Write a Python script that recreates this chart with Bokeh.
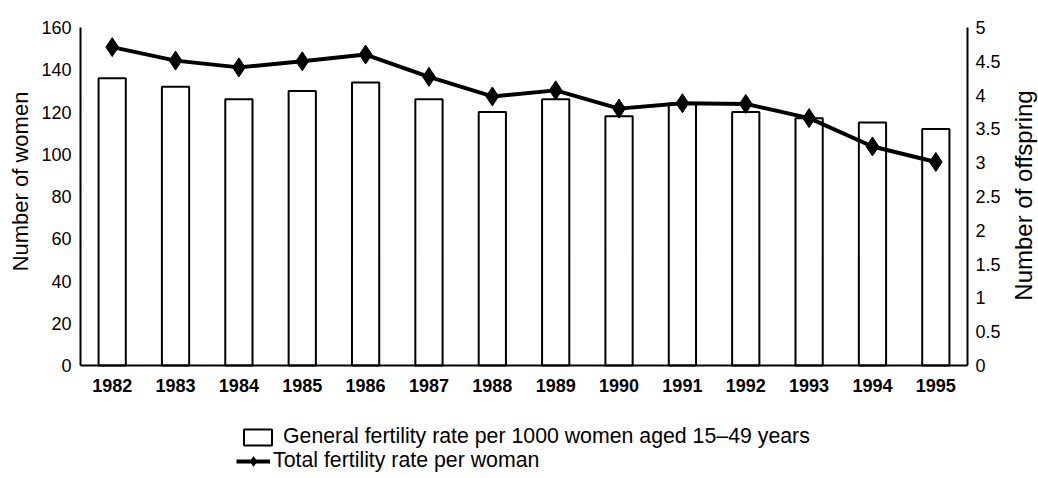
import math
from bokeh.plotting import figure
from bokeh.models import (Range1d, LinearAxis, Legend, LegendItem, Label,
                          FixedTicker, CustomJSTickFormatter, ColumnDataSource)
from bokeh.embed import file_html
from bokeh.resources import INLINE

years = ["1982", "1983", "1984", "1985", "1986", "1987", "1988",
         "1989", "1990", "1991", "1992", "1993", "1994", "1995"]
gfr = [136, 132, 126, 130, 134, 126, 120, 126, 118, 124, 120, 117, 115, 112]
tfr = [4.71, 4.51, 4.41, 4.50, 4.60, 4.27, 3.98, 4.07, 3.80, 3.88, 3.87, 3.66, 3.24, 3.01]
left_ticks = [0, 20, 40, 60, 80, 100, 120, 140, 160]
right_ticks = [0, 0.5, 1, 1.5, 2, 2.5, 3, 3.5, 4, 4.5, 5]
gfr_label = "General fertility rate per 1000 women aged 15\u201349 years"
tfr_label = "Total fertility rate per woman"
left_title = "Number of women"
right_title = "Number of offspring"

FONT = "Liberation Sans"

# ---- layout in pixels (the whole figure is the plotting frame) ----
W, H = 1038, 478
AX_LEFT, AX_RIGHT = 80, 967        # x pixel of the left and right axes
AX_TOP, AX_BOTTOM = 27, 365        # y pixel (from top) of value 160 / 0
left_max, right_max = 160, 5
n = len(years)
xpx = (AX_RIGHT - AX_LEFT) / n
ypx = (AX_BOTTOM - AX_TOP) / left_max
x_start, x_end = -AX_LEFT / xpx, n + (W - AX_RIGHT) / xpx
y_top, y_bot = left_max + AX_TOP / ypx, -(H - AX_BOTTOM) / ypx
scale = right_max / left_max

xpos = [i + 0.5 for i in range(n)]
src = ColumnDataSource(dict(x=xpos, year=years, gfr=gfr, tfr=tfr))

p = figure(x_range=Range1d(x_start, x_end), y_range=Range1d(y_bot, y_top),
           frame_width=W, frame_height=H,
           min_border_left=0, min_border_right=0, min_border_top=0, min_border_bottom=0,
           output_backend="svg", toolbar_location=None)
p.outline_line_color = None
p.xgrid.grid_line_color = None
p.ygrid.grid_line_color = None
p.background_fill_color = "white"
p.border_fill_color = "white"
p.extra_y_ranges = {"tfr": Range1d(y_bot * scale, y_top * scale)}

bars = p.vbar(x="x", top="gfr", bottom=0, width=0.43, source=src,
              fill_color="white", line_color="black", line_width=2)
line = p.line(x="x", y="tfr", source=src, y_range_name="tfr",
              line_color="black", line_width=4)
pts = p.scatter(x="x", y="tfr", source=src, y_range_name="tfr",
                marker="diamond", size=19, fill_color="black", line_color="black")


def style_axis(ax, size, bold=False):
    ax.axis_line_width = 2
    ax.axis_line_color = "black"
    ax.major_tick_line_color = None
    ax.minor_tick_line_color = None
    ax.major_tick_out = 0
    ax.major_tick_in = 0
    ax.major_label_text_font = FONT
    ax.major_label_text_font_size = size
    ax.major_label_text_font_style = "bold" if bold else "normal"
    ax.major_label_text_color = "black"


# x axis (years) along value 0
xa = p.xaxis[0]
xa.fixed_location = 0
xa.bounds = (0, n)
xa.ticker = FixedTicker(ticks=xpos)
xa.formatter = CustomJSTickFormatter(args=dict(labels=years),
                                     code="return labels[Math.floor(tick)]")
style_axis(xa, "18px", bold=True)
xa.major_label_standoff = 13

# left axis
ya = p.yaxis[0]
ya.fixed_location = 0
ya.bounds = (0, left_max)
ya.ticker = FixedTicker(ticks=left_ticks)
style_axis(ya, "18px")
ya.major_label_standoff = 9

# right axis
ra = LinearAxis(y_range_name="tfr", fixed_location=n, bounds=(0, right_max),
                ticker=FixedTicker(ticks=right_ticks),
                formatter=CustomJSTickFormatter(code="return String(tick)"))
style_axis(ra, "18px")
ra.major_label_standoff = 8
p.add_layout(ra, "right")

# axis titles
p.add_layout(Label(x=20, y=H - 181, x_units="screen", y_units="screen", text=left_title,
                   angle=math.pi / 2, text_align="center", text_baseline="middle",
                   text_font=FONT, text_font_size="22px", text_color="black"))
p.add_layout(Label(x=1023, y=H - 195, x_units="screen", y_units="screen", text=right_title,
                   angle=math.pi / 2, text_align="center", text_baseline="middle",
                   text_font=FONT, text_font_size="24px", text_color="black"))


def make_legend(label, renderers, loc, gw, gh, standoff, lh):
    return Legend(items=[LegendItem(label=label, renderers=renderers)], location=loc,
                  padding=0, margin=0, border_line_color=None, background_fill_alpha=0,
                  glyph_width=gw, glyph_height=gh, label_standoff=standoff,
                  label_text_font=FONT, label_text_font_size="21.3px",
                  label_text_color="black", label_height=lh)


leg1 = make_legend(gfr_label, [bars], (240, 29), 35, 20, 8, 24)
leg2 = make_legend(tfr_label, [line, pts], (236, 5), 34, 24, 3, 24)
p.add_layout(leg1)
p.add_layout(leg2)

open("out.html", "w").write(file_html(p, INLINE))
